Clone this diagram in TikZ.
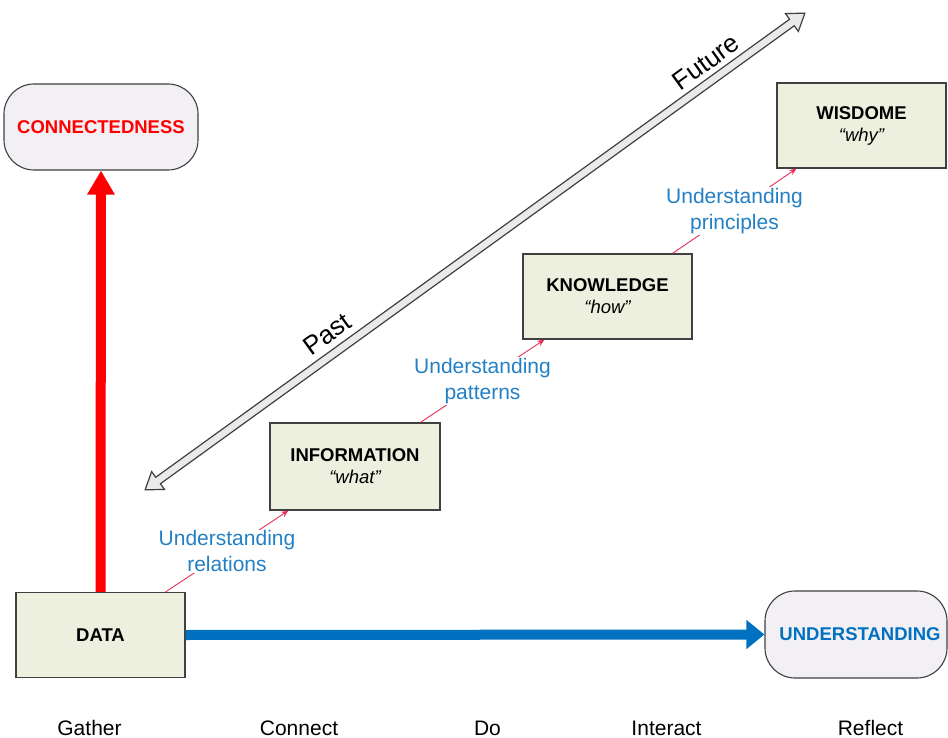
\documentclass[tikz,border=0pt]{standalone}
\usepackage{fontspec}
\setmainfont{Liberation Sans}
\usetikzlibrary{arrows.meta,calc}
\definecolor{boxfill}{RGB}{238,240,223}
\definecolor{roundfill}{RGB}{242,240,244}
\definecolor{edgegrey}{RGB}{64,64,64}
\definecolor{steelblue}{RGB}{0,112,192}
\definecolor{labelblue}{RGB}{36,128,196}
\definecolor{linkred}{RGB}{232,48,88}
\definecolor{arrowfill}{RGB}{234,234,234}
\definecolor{hotred}{RGB}{255,0,0}

\begin{document}
\begin{tikzpicture}[x=1pt,y=-1pt,
  stage/.style={draw=edgegrey, line width=1.3pt, fill=boxfill, inner sep=0pt,
    minimum width=169pt, minimum height=85pt, align=center,
    font=\fontsize{18.5}{22}\selectfont\bfseries},
  outcome/.style={draw=edgegrey, line width=1.1pt, fill=roundfill, rounded corners=30pt,
    inner sep=0pt, minimum height=86pt, font=\fontsize{18.5}{22}\selectfont\bfseries},
  link/.style={draw=linkred, line width=0.9pt, -{Stealth[length=7pt,width=6pt]}},
  linklabel/.style={fill=white, inner sep=1pt, align=center, text=labelblue,
    font=\fontsize{21}{26}\selectfont},
  activity/.style={anchor=base, font=\fontsize{21}{25}\selectfont},
  timeword/.style={rotate=35.85, inner sep=0pt, font=\fontsize{26}{30}\selectfont}
]
\fill[white] (0,0) rectangle (948,738);
\useasboundingbox (0,0) rectangle (948,738);

% past / future timeline
\begin{scope}[shift={(475,251.5)}, rotate=35.85]
  \draw[draw=edgegrey, line width=1.2pt, fill=arrowfill, line join=miter]
    (-407,0) -- (-391,11) -- (-391,4) -- (391,4) -- (391,11) -- (407,0)
    -- (391,-11) -- (391,-4) -- (-391,-4) -- (-391,-11) -- cycle;
\end{scope}
\node[timeword] (past) at (327,334) {Past};
\node[timeword] (future) at (706,62) {Future};

% hierarchy boxes
\node[stage] (data) at (100.5,635) {DATA};
\node[stage, minimum width=170pt, minimum height=87pt] (info) at (355,466.5)
  {INFORMATION\\{\mdseries\itshape “what”}};
\node[stage] (know) at (607.5,296.5) {KNOWLEDGE\\{\mdseries\itshape “how”}};
\node[stage] (wis) at (861.5,125.5) {WISDOME\\{\mdseries\itshape “why”}};

% outcome boxes
\node[outcome, minimum width=194pt, text=hotred] (conn) at (101,127) {CONNECTEDNESS};
\node[outcome, minimum width=182pt, minimum height=87pt, text=steelblue] (und) at (856,634.5)
  {\hspace*{8pt}UNDERSTANDING};

% main axes
\draw[line width=10pt, hotred, -{Triangle[width=26pt,length=24pt]}] (data.north) -- (conn.south);
\draw[line width=10pt, steelblue, -{Triangle[width=28pt,length=18pt]}] (data.east) -- (und.west);

% transitions between levels
\draw[link] ($(data.north east)+(-20,0)$) -- node[linklabel] (l1) {Understanding\\relations}
  ($(info.south west)+(19,0)$);
\draw[link] ($(info.north east)+(-20,0)$) -- node[linklabel] (l2) {Understanding\\patterns}
  ($(know.south west)+(22,0)$);
\draw[link] ($(know.north east)+(-20,0)$) -- node[linklabel] (l3) {Understanding\\principles}
  ($(wis.south west)+(20,0)$);

% activities along the bottom
\node[activity] (gather) at (89.5,735) {Gather};
\node[activity] (connect) at (299,735) {Connect};
\node[activity] (do) at (487.5,735) {Do};
\node[activity] (interact) at (666.5,735) {Interact};
\node[activity] (reflect) at (870.5,735) {Reflect};
\end{tikzpicture}
\end{document}
